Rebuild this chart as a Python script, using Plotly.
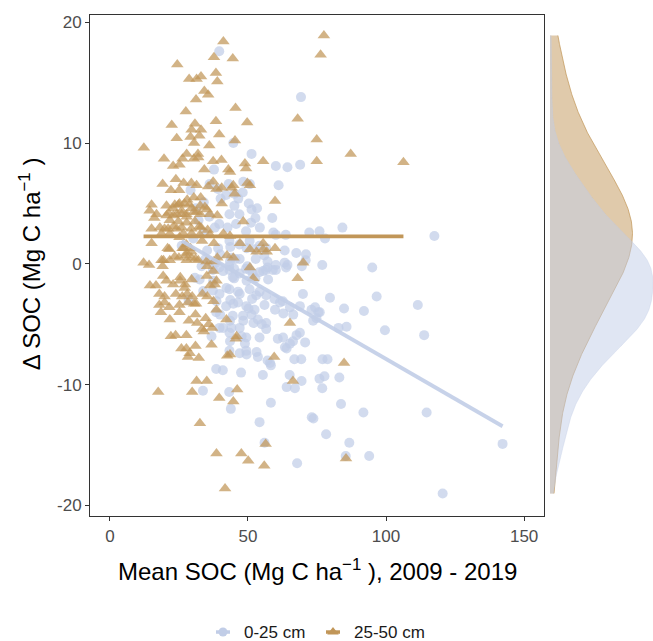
import numpy as np
import plotly.graph_objects as go

groups = ["0-25 cm", "25-50 cm"]
x_ticks = [0, 50, 100, 150]
x_tick_labels = ["0", "50", "100", "150"]
y_ticks = [-20, -10, 0, 10, 20]
y_tick_labels = ["-20", "-10", "0", "10", "20"]

# linear fits (slope, intercept) per depth
fit_slope = [-0.132, 0.0]
fit_intercept = [5.33, 2.28]

# (mean SOC, delta SOC) for 0-25 cm
pts_0_25 = [(39.6,17.6),(69.2,13.8),(44.7,10.0),(51.3,9.1),(60.1,8.1),(64.3,8.0),(68.9,8.2),(37.7,7.8),(48.3,6.8),(50.7,6.6),(43.0,6.6),(61.1,6.5),
 (39.1,6.2),(42.1,5.7),(45.1,5.8),(48.1,5.9),(46.5,5.4),(50.3,5.0),(53.3,4.6),(51.3,4.5),(52.7,3.8),(45.1,4.8),(43.3,4.1),(46.9,4.1),(58.8,3.8),
 (39.6,3.3),(42.6,3.0),(45.7,3.3),(49.3,2.7),(51.1,3.4),(54.3,3.0),(59.2,2.6),(60.1,2.4),(63.7,2.4),(72.2,2.6),(75.9,2.7),(77.9,2.1),(84.2,3.0),(117.5,2.3),
 (43.3,1.9),(46.9,1.6),(50.6,1.9),(54.2,1.5),(56.6,1.3),(43.6,1.4),(49.5,1.3),(52.4,1.2),(63.3,1.1),(67.5,0.9),(71.0,0.8),(34.6,0.4),(38.3,0.1),(39.9,0.8),
 (36.2,0.2),(43.5,0.2),(44.0,0.5),(45.5,0.4),(47.0,0.4),(52.8,0.4),(55.9,0.7),(57.1,0.2),(63.3,0.1),(70.9,0.3),(33.2,-0.2),(43.2,-0.2),(49.8,-0.2),(57.1,-0.3),
 (60.1,-0.1),(64.3,-0.1),(69.5,-0.2),(76.9,-0.1),(95.0,-0.3),(37.3,-0.5),(39.7,-0.3),(41.0,-0.6),(43.3,-0.5),(45.0,-0.4),(47.0,-0.8),(49.3,-0.4),(50.5,-0.5),
 (51.7,-0.8),(54.1,-0.7),(55.5,-0.6),(56.5,-0.5),(59.0,-0.5),(60.1,-0.5),(63.8,-0.3),(30.8,-1.15),(32.5,-1.3),(37.4,-1.4),(44.5,-1.1),(45.0,-1.2),(49.5,-1.4),
 (52.7,-1.2),(57.3,-1.3),(33.8,-2.25),(37.3,-2.2),(39.7,-2.5),(42.2,-2.0),(43.3,-2.1),(46.4,-2.3),(47.0,-2.5),(50.6,-2.1),(53.0,-2.6),(54.2,-2.3),(56.6,-2.6),
 (59.6,-2.9),(62.6,-3.1),(69.9,-2.5),(79.7,-2.8),(96.6,-2.7),(38.6,-3.1),(42.1,-3.5),(43.6,-3.0),(44.7,-3.3),(46.4,-3.2),(49.4,-3.5),(50.2,-3.7),(51.5,-2.9),
 (52.4,-3.8),(56.0,-3.4),(59.8,-3.8),(61.6,-3.2),(65.2,-3.6),(68.8,-3.5),(73.0,-3.8),(74.3,-3.6),(75.5,-4.0),(76.0,-4.0),(84.8,-3.7),(92.0,-3.9),(111.5,-3.4),
 (38.5,-4.0),(39.9,-4.2),(44.5,-4.3),(48.2,-4.3),(51.3,-4.2),(43.5,-4.7),(48.3,-4.7),(52.0,-4.9),(53.6,-4.6),(55.0,-5.0),(56.6,-4.9),(62.8,-4.1),(66.4,-4.2),
 (74.8,-4.5),(73.6,-4.7),(39.7,-5.3),(41.0,-5.3),(44.0,-5.3),(43.3,-5.7),(47.0,-5.3),(56.6,-5.4),(67.6,-5.9),(68.8,-5.7),(82.8,-5.3),(85.7,-5.2),(99.6,-5.5),
 (113.8,-5.9),(36.8,-6.0),(43.5,-6.4),(47.7,-6.0),(49.4,-6.1),(54.2,-6.1),(60.8,-6.2),(62.7,-6.1),(65.2,-6.6),(66.3,-6.4),(70.7,-6.5),(48.9,-6.6),(63.4,-6.9),
 (64.0,-7.0),(43.3,-7.2),(47.0,-7.4),(49.4,-7.2),(49.5,-7.5),(53.1,-7.3),(53.6,-7.7),(57.1,-8.0),(58.0,-8.2),(58.3,-8.4),(66.8,-7.9),(69.3,-7.9),(77.0,-7.9),
 (78.8,-7.9),(38.5,-8.7),(40.9,-8.8),(47.5,-9.0),(55.4,-9.2),(65.1,-9.2),(75.9,-9.5),(77.7,-9.3),(83.1,-9.4),(69.4,-9.7),(64.0,-10.2),(67.0,-10.3),(76.9,-10.3),
 (33.7,-10.5),(43.2,-10.6),(43.8,-12.0),(58.3,-11.5),(83.7,-11.6),(91.8,-12.3),(114.7,-12.3),(73.1,-12.7),(73.7,-12.8),(54.2,-13.1),(78.3,-14.1),(56.0,-14.8),
 (86.7,-14.8),(142.2,-14.9),(85.4,-15.9),(93.9,-15.9),(67.8,-16.5),(120.5,-19.0),(26.0,1.5),(28.5,-3.0),
 # points largely hidden beneath the 25-50 cm triangles
 (30.2,2.1),(32.1,3.6),(34.0,5.1),(36.1,6.6),(35.2,1.1),(38.0,3.0),(40.1,5.4),(31.1,4.6),(29.2,6.1),
 (36.0,3.9),(39.2,1.3),(34.1,2.6)]

# (mean SOC, delta SOC) for 25-50 cm
pts_25_50 = [(41.1,18.4),(37.7,17.1),(44.5,17.0),(24.4,16.5),(28.7,15.3),(31.4,15.3),(33.0,15.5),(38.4,15.8),(38.9,15.1),(34.2,14.3),(35.6,14.0),(31.2,13.6),
 (45.5,12.9),(27.5,12.6),(22.4,11.5),(30.8,11.6),(38.4,11.8),(49.7,11.7),(29.6,11.1),(33.0,11.1),(24.2,10.4),(29.2,10.5),(32.4,10.6),(39.6,10.7),(45.3,10.2),
 (12.3,9.6),(36.0,9.8),(30.5,10.0),(27.8,9.1),(31.9,9.1),(30.4,8.7),(32.0,8.8),(19.6,8.7),(26.3,8.7),(37.4,8.5),(40.4,8.6),(22.9,8.1),(25.2,8.2),(34.2,7.8),
 (42.9,7.8),(48.9,8.3),(49.3,7.9),(55.5,8.5),(43.5,7.6),(49.8,6.7),(19.1,6.6),(23.9,7.0),(26.7,6.7),(29.5,6.7),(22.1,6.1),(25.1,6.1),(31.4,6.5),(37.4,6.8),
 (40.5,6.3),(44.1,6.3),(35.6,6.4),(38.6,6.2),(44.7,6.5),(50.7,6.5),(45.2,5.8),(30.4,5.5),(32.9,5.5),(28.0,5.3),(59.8,5.2),(15.1,4.9),(20.5,4.8),(23.5,4.9),
 (25.2,5.0),(27.0,5.0),(28.8,4.9),(35.1,4.5),(32.7,4.8),(40.5,5.0),(24.8,4.9),(22.9,4.6),(29.6,4.6),(34.4,4.7),(14.4,4.4),(16.1,3.8),(16.9,4.1),(21.2,4.2),
 (23.0,4.0),(24.2,4.1),(26.0,4.1),(27.8,3.9),(30.4,4.3),(32.7,4.1),(38.9,4.0),(20.5,4.0),(26.0,4.4),(27.7,4.1),(31.4,4.3),(36.2,4.1),(21.7,3.6),(24.8,3.5),
 (27.8,3.4),(30.8,3.5),(48.3,3.5),(15.1,2.9),(18.1,3.0),(19.8,2.9),(23.0,3.1),(24.2,2.9),(29.5,2.9),(32.4,3.1),(26.0,3.0),(21.1,2.9),(33.0,3.0),(35.4,2.8),
 (18.7,2.5),(21.7,2.5),(26.6,2.5),(29.6,2.5),(32.6,2.4),(36.2,2.4),(41.1,2.5),(43.5,2.3),(25.2,2.2),(27.7,1.6),(33.4,1.9),(37.7,1.7),(15.1,1.7),(47.1,1.7),
 (55.5,1.7),(21.5,1.2),(20.9,1.3),(26.3,1.3),(26.8,1.3),(29.2,1.3),(27.8,0.9),(29.5,1.0),(50.7,1.2),(53.1,1.0),(55.5,1.2),(56.8,1.0),(59.8,1.3),(23.5,0.6),
 (27.5,0.7),(29.6,0.5),(25.0,0.5),(38.9,0.5),(42.4,0.7),(44.7,0.5),(19.4,0.3),(18.7,0.3),(21.7,0.3),(27.8,0.3),(31.0,0.4),(32.0,0.3),(35.0,0.2),(37.6,0.2),
 (12.2,0.1),(14.2,-0.1),(70.0,0.1),(35.2,-0.2),(19.1,-0.2),(50.7,-0.3),(37.4,-0.6),(19.3,-1.0),(35.1,-1.0),(25.5,-1.1),(51.9,-1.2),
 (68.0,-1.2),(20.5,-1.4),(25.4,-1.4),(29.6,-1.3),(38.6,-1.4),(16.7,-1.8),(22.9,-1.7),(27.2,-1.7),(36.3,-1.8),(14.5,-1.8),(27.1,-2.0),
 (38.0,-1.7),(17.9,-2.5),(19.8,-2.7),(23.9,-2.5),(26.2,-2.7),(28.0,-2.5),(29.8,-2.7),(33.5,-2.5),(35.3,-2.7),(19.8,-3.2),
 (31.2,-3.3),(37.5,-3.1),(17.9,-3.4),(21.5,-3.6),(25.2,-3.4),(28.3,-3.2),(30.5,-3.3),(38.6,-3.8),(18.5,-4.0),(25.2,-4.0),(31.0,-4.2),
 (34.7,-4.5),(21.7,-4.6),(42.2,-4.6),(28.6,-4.7),(31.6,-4.9),(35.8,-5.0),(65.2,-4.9),(33.4,-5.4),(34.0,-5.6),(37.0,-5.3),(23.8,-5.9),
 (22.1,-6.0),(27.7,-5.9),(45.9,-6.0),(45.6,-6.2),(36.8,-6.7),(31.0,-6.8),(25.9,-7.0),(27.7,-7.0),(28.9,-7.4),(28.3,-7.7),(32.2,-7.8),(42.5,-7.6),
 (43.5,-7.5),(59.5,-7.7),(84.8,-8.2),(31.4,-9.7),(35.1,-9.7),(66.3,-9.7),(17.5,-10.6),(29.8,-10.6),(46.1,-10.4),(39.6,-11.1),(44.7,-11.4),(32.6,-13.2),
 (56.4,-14.9),(38.6,-15.7),(47.6,-15.7),(50.1,-16.3),(55.9,-16.7),(85.5,-16.1),(41.7,-18.6),(74.9,10.3),(74.9,8.5),(68.0,12.0),(77.5,18.9),(76.3,17.3),
 (87.2,9.1),(106.3,8.4)]

W, H = 653, 641
BLUE = (193, 205, 231)
TAN = (193, 150, 88)
FONT = "Liberation Sans, Arial, sans-serif"
BW_ADJUST = [1.2, 1.7]

def rgba(c, a):
    return "rgba(%d,%d,%d,%.3f)" % (c[0], c[1], c[2], a)

x_b = np.array([p[0] for p in pts_0_25]); y_b = np.array([p[1] for p in pts_0_25])
x_t = np.array([p[0] for p in pts_25_50]); y_t = np.array([p[1] for p in pts_25_50])

def bw_nrd0(v):
    sd = np.std(v, ddof=1)
    q75, q25 = np.percentile(v, [75, 25])
    lo = min(sd, (q75 - q25) / 1.34)
    return 0.9 * lo * len(v) ** (-0.2)

def kde(v, grid, adjust):
    bw = bw_nrd0(v) * adjust
    z = (grid[:, None] - v[None, :]) / bw
    return np.exp(-0.5 * z * z).sum(axis=1) / (len(v) * bw * np.sqrt(2 * np.pi))

all_y = np.concatenate([y_b, y_t])
grid = np.linspace(all_y.min(), all_y.max(), 512)
d_b = kde(y_b, grid, BW_ADJUST[0])
d_t = kde(y_t, grid, BW_ADJUST[1])

fig = go.Figure()
fig.add_trace(go.Scatter(x=x_b, y=y_b, mode="markers", showlegend=False,
                         marker=dict(symbol="circle", size=10, color=rgba(BLUE, 0.72), line=dict(width=0))))
fig.add_trace(go.Scatter(x=x_t, y=y_t, mode="markers", showlegend=False,
                         marker=dict(symbol="triangle-up", size=11, color=rgba(TAN, 0.72), line=dict(width=0))))
for xs, k, b0, col, a in [(x_b, fit_slope[0], fit_intercept[0], BLUE, 0.9),
                          (x_t, fit_slope[1], fit_intercept[1], TAN, 1.0)]:
    lx = np.array([xs.min(), xs.max()])
    fig.add_trace(go.Scatter(x=lx, y=k * lx + b0, mode="lines", showlegend=False,
                             line=dict(color=rgba(col, a), width=3.8)))

fig.add_trace(go.Scatter(x=d_t, y=grid, xaxis="x2", yaxis="y2", mode="lines", fill="tozerox",
                         fillcolor=rgba(TAN, 0.5), line=dict(color=rgba(TAN, 0.9), width=0.8), showlegend=False))
fig.add_trace(go.Scatter(x=d_b, y=grid, xaxis="x2", yaxis="y2", mode="lines", fill="tozerox",
                         fillcolor=rgba(BLUE, 0.5), line=dict(color=rgba(BLUE, 0.6), width=0.6), showlegend=False))

# legend keys, drawn on an overlay axis measured in page pixels
leg_y = 632
leg_keys = [(groups[0], "circle", BLUE, 9, 223), (groups[1], "triangle-up", TAN, 10, 333)]
annotations = []
for name, sym, col, sz, cx in leg_keys:
    fig.add_trace(go.Scatter(x=[cx - 7, cx + 7], y=[leg_y, leg_y], xaxis="x3", yaxis="y3", mode="lines",
                             line=dict(color=rgba(col, 1), width=3.5), showlegend=False, hoverinfo="skip"))
    fig.add_trace(go.Scatter(x=[cx], y=[leg_y], xaxis="x3", yaxis="y3", mode="markers",
                             marker=dict(symbol=sym, size=sz, color=rgba(col, 1)), showlegend=False, hoverinfo="skip"))
    annotations.append(dict(text=name, x=(cx + 19) / W, y=(H - leg_y) / H, xref="paper", yref="paper",
                            showarrow=False, xanchor="left", yanchor="middle",
                            font=dict(family=FONT, size=17, color="#1a1a1a")))

ydom = [(H - 516) / H, (H - 13) / H]
axis_common = dict(showgrid=False, zeroline=False, showline=True, linecolor="#333333", linewidth=1,
                   mirror=True, ticks="outside", ticklen=4, tickcolor="#333333", tickwidth=1,
                   tickfont=dict(family=FONT, size=17, color="#4d4d4d"))
annotations += [
    dict(text="Mean SOC (Mg C ha<sup>\u22121</sup> ), 2009 - 2019", x=317 / W, y=(H - 570) / H,
         xref="paper", yref="paper", showarrow=False, xanchor="center", yanchor="middle",
         font=dict(family=FONT, size=24, color="black")),
    dict(text="\u0394 SOC (Mg C ha<sup>\u22121</sup> )", x=30 / W, y=(H - 263) / H,
         xref="paper", yref="paper", showarrow=False, xanchor="center", yanchor="middle", textangle=-90,
         font=dict(family=FONT, size=24, color="black")),
]
fig.update_layout(
    width=W, height=H, margin=dict(l=0, r=0, t=0, b=0),
    paper_bgcolor="white", plot_bgcolor="rgba(0,0,0,0)", showlegend=False,
    xaxis=dict(domain=[90 / W, 544 / W], range=[-7.2, 157.2], tickvals=x_ticks, ticktext=x_tick_labels,
               anchor="y", **axis_common),
    yaxis=dict(domain=ydom, range=[-20.9, 20.6], tickvals=y_ticks, ticktext=y_tick_labels,
               anchor="x", **axis_common),
    xaxis2=dict(domain=[550 / W, 1.0], range=[0, d_b.max() * 1.0], visible=False, anchor="y2"),
    yaxis2=dict(domain=ydom, matches="y", visible=False, anchor="x2"),
    xaxis3=dict(domain=[0, 1], range=[0, W], visible=False, anchor="y3"),
    yaxis3=dict(domain=[0, 1], range=[H, 0], visible=False, anchor="x3"),
    annotations=annotations,
)
fig.write_html("out.html")
